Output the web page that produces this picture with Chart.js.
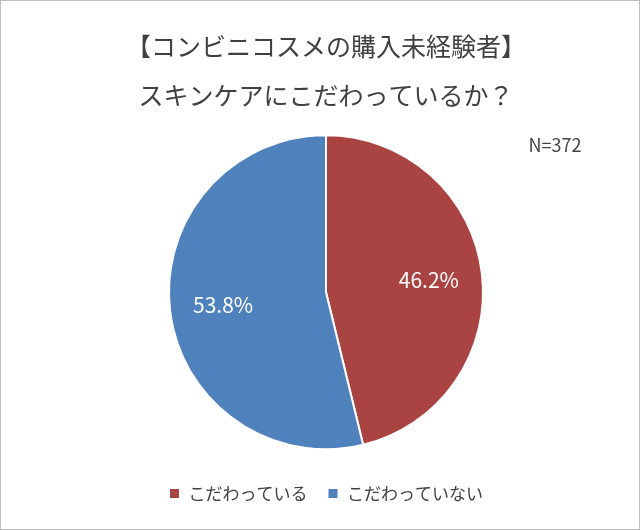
<!doctype html>
<html lang="ja">
<head>
<meta charset="utf-8">
<style>
  * { margin: 0; padding: 0; }
  body { background: #fff; }
  .box { width: 640px; height: 530px; }
</style>
</head>
<body>
<div class="box"><canvas id="myChart" width="640" height="530"></canvas></div>
<script src="https://cdn.jsdelivr.net/npm/chart.js"></script>
<script>
const categories = ['こだわっている', 'こだわっていない'];
const values = [46.2, 53.8];
const colors = ['#A94442', '#4F81BD'];
const titleLines = ['【コンビニコスメの購入未経験者】', 'スキンケアにこだわっているか？'];
const sampleText = 'N=372';

const font = "'Noto Sans CJK JP', sans-serif";

// percentage labels inside slices + N label + frame
const extras = {
  id: 'extras',
  afterDraw(chart) {
    const ctx = chart.ctx;
    ctx.save();
    const meta = chart.getDatasetMeta(0);
    ctx.fillStyle = '#fff';
    ctx.font = '21px ' + font;
    ctx.textAlign = 'center';
    ctx.textBaseline = 'middle';
    meta.data.forEach((arc, i) => {
      const mid = (arc.startAngle + arc.endAngle) / 2;
      const r = arc.outerRadius * 0.66;
      ctx.fillText(values[i].toFixed(1) + '%', arc.x + Math.cos(mid) * r, arc.y + Math.sin(mid) * r);
    });
    ctx.fillStyle = '#444';
    ctx.font = '18px ' + font;
    ctx.fillText(sampleText, 555, 145);
    ctx.strokeStyle = '#bfbfbf';
    ctx.lineWidth = 1;
    ctx.strokeRect(0.5, 0.5, chart.width - 1, chart.height - 1);
    ctx.restore();
  }
};

new Chart(document.getElementById('myChart'), {
  type: 'pie',
  data: {
    labels: categories,
    datasets: [{
      data: values,
      backgroundColor: colors,
      borderColor: '#fff',
      borderWidth: 2,
      radius: 157
    }]
  },
  options: {
    responsive: false,
    animation: false,
    layout: { padding: { left: 12, right: 0, top: 0, bottom: 18 } },
    plugins: {
      tooltip: { enabled: false },
      title: {
        display: true,
        text: titleLines,
        color: '#404040',
        font: { family: font, size: 25, weight: 'normal', lineHeight: 1.95 },
        padding: { top: 22, bottom: 0 }
      },
      legend: {
        position: 'bottom',
        labels: {
          color: '#404040',
          font: { family: font, size: 17 },
          boxWidth: 11,
          boxHeight: 11,
          padding: 20
        }
      }
    }
  },
  plugins: [extras]
});
</script>
</body>
</html>
